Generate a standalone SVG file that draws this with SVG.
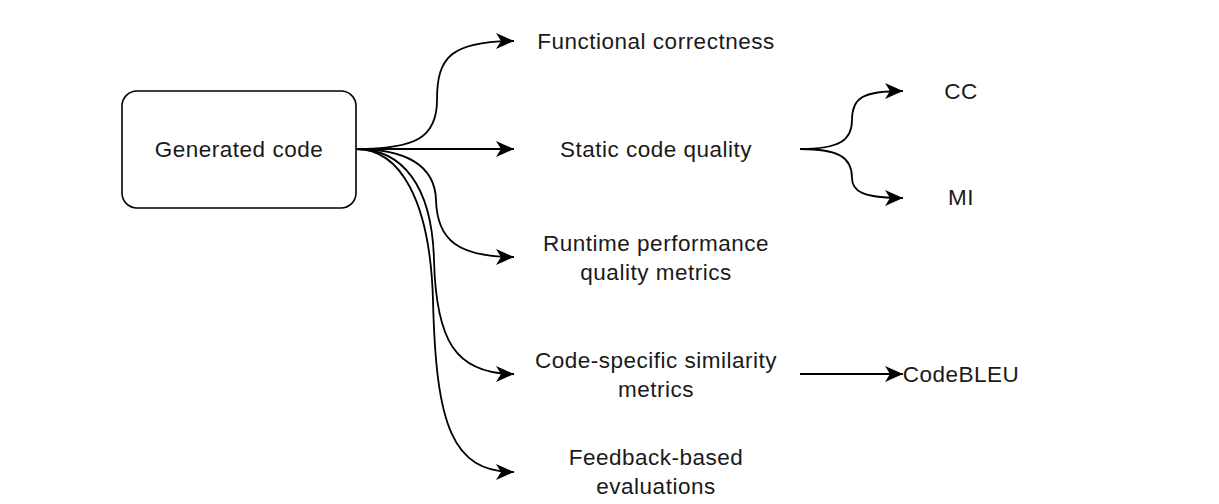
<svg xmlns="http://www.w3.org/2000/svg" width="1219" height="504" viewBox="0 0 1219 504">
<defs>
<style>
text{font-family:"Liberation Sans",Arial,sans-serif;font-size:22.5px;letter-spacing:0.5px;fill:#1a1a1a;text-anchor:middle;dominant-baseline:central}
.e{fill:none;stroke:#000;stroke-width:1.8;marker-end:url(#ah)}
</style>
<marker id="ah" markerUnits="userSpaceOnUse" viewBox="0 0 18 16" markerWidth="18" markerHeight="16" refX="18" refY="8" orient="auto">
<path d="M0,0 L18,8 L0,16 L5,8 Z" fill="#000"/>
</marker>
</defs>
<rect width="1219" height="504" fill="#fff"/>
<g id="connectors">
<path class="e" d="M356,149 C415,149 437,138 437,100 C437,58 450,41 514,41"/>
<path class="e" d="M356,149 L514,149"/>
<path class="e" d="M356,149 C405,149 435,165 436,200 C437,240 458,257 514,257"/>
<path class="e" d="M356,149 C402,149 432,185 434,260 C436,340 455,374 514,374"/>
<path class="e" d="M356,149 C400,149 430,200 433,300 C436,425 452,472 514,472"/>
<path class="e" d="M800,149 C840,149 852,140 852,120 C852,98 862,91 903,91"/>
<path class="e" d="M800,149 C840,149 852,158 852,178 C852,191 862,198 903,198"/>
<path class="e" d="M800,374 L903,374"/>
</g>
<g id="generated-code">
<rect x="122" y="91" width="234" height="117" rx="15" fill="#fff" stroke="#000" stroke-width="1.6"/>
<text x="239" y="149">Generated code</text>
</g>
<g id="functional-correctness"><text x="656" y="41">Functional correctness</text></g>
<g id="static-code-quality"><text x="656" y="149">Static code quality</text></g>
<g id="runtime-performance"><text x="656" y="243">Runtime performance</text><text x="656" y="272">quality metrics</text></g>
<g id="code-specific"><text x="656" y="360">Code-specific similarity</text><text x="656" y="389">metrics</text></g>
<g id="feedback-based"><text x="656" y="457">Feedback-based</text><text x="656" y="486">evaluations</text></g>
<g id="cc"><text x="961" y="91">CC</text></g>
<g id="mi"><text x="961" y="197">MI</text></g>
<g id="codebleu"><text x="961" y="374">CodeBLEU</text></g>
</svg>
